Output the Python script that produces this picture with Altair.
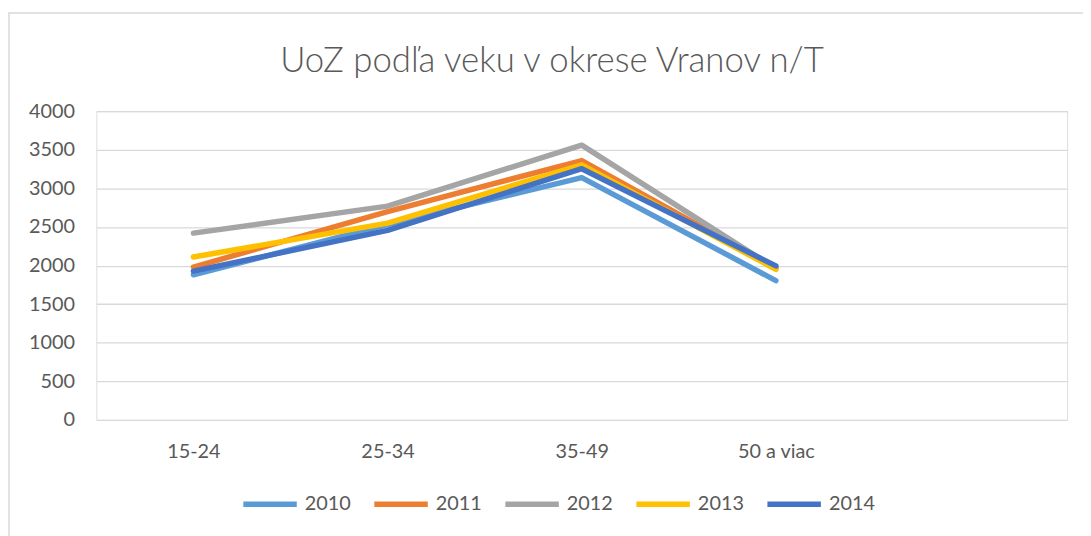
import altair as alt
import pandas as pd

categories = ["15-24", "25-34", "35-49", "50 a viac"]
x_domain = categories + [" "]
years = ["2010", "2011", "2012", "2013", "2014"]
v2010 = [1880, 2530, 3140, 1805]
v2011 = [1980, 2700, 3360, 1970]
v2012 = [2420, 2770, 3560, 1960]
v2013 = [2110, 2550, 3305, 1950]
v2014 = [1928, 2455, 3255, 1995]
colors = ["#5B9BD5", "#ED7D31", "#A5A5A5", "#FFC000", "#4472C4"]
y_ticks = [0, 500, 1000, 1500, 2000, 2500, 3000, 3500, 4000]
title_text = "UoZ podľa veku v okrese Vranov n/T"

series = [v2010, v2011, v2012, v2013, v2014]
rows = []
for yr, vals in zip(years, series):
    for c, v in zip(categories, vals):
        rows.append({"cat": c, "year": yr, "value": v})
df = pd.DataFrame(rows)

FONT = "Lato"
TXT = "#595959"
GRID = "#D9D9D9"

W, H = 978, 311

lines = alt.Chart(df).mark_line(strokeWidth=5.5, strokeCap="round", strokeJoin="round").encode(
    x=alt.X("cat:O", scale=alt.Scale(domain=x_domain, type="point", padding=0.5),
            sort=x_domain,
            axis=alt.Axis(title=None, labelAngle=0, ticks=False, domain=False, grid=False,
                          labelPadding=22, labelFontSize=20, labelColor=TXT, labelFont=FONT)),
    y=alt.Y("value:Q", scale=alt.Scale(domain=[0, 4000], nice=False),
            axis=alt.Axis(title=None, values=y_ticks, format="d", ticks=False, domain=False, grid=True,
                          gridColor=GRID, gridWidth=1.3, labelPadding=22,
                          labelFontSize=20, labelColor=TXT, labelFont=FONT)),
    color=alt.Color("year:N", scale=alt.Scale(domain=years, range=colors),
                    legend=alt.Legend(title=None, orient="none", direction="horizontal",
                                      legendX=145, legendY=366,
                                      symbolType="stroke", symbolSize=2900,
                                      symbolStrokeWidth=5.5, labelFontSize=20,
                                      labelColor=TXT, labelFont=FONT, labelOffset=5,
                                      columnPadding=12)),
    order=alt.Order("year:N"),
)

frame = alt.Chart(pd.DataFrame({"k": [0]})).mark_rect(fill=None, stroke=GRID, strokeWidth=1.5).encode(
    x=alt.value(-88), x2=alt.value(1200), y=alt.value(-99), y2=alt.value(700)
)

title = alt.Chart(pd.DataFrame({"t": [title_text]})).mark_text(
    font=FONT, fontSize=35, fontWeight=300, color=TXT, align="center", baseline="middle"
).encode(text="t:N", x=alt.value(459), y=alt.value(-50))

chart = alt.layer(frame, title, lines).properties(
    width=W, height=H,
    autosize=alt.AutoSizeParams(type="none"),
    padding={"left": 89, "top": 102, "right": 16, "bottom": 115},
).configure_view(stroke=None).configure(background="white")

chart.save("out.html", embed_options={"renderer": "svg", "actions": False})
